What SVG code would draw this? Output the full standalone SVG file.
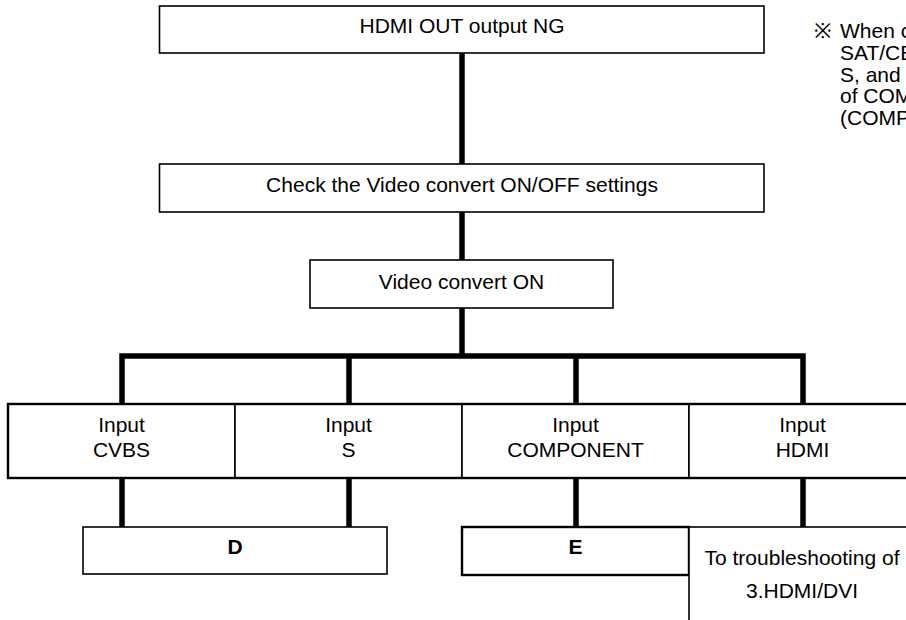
<svg xmlns="http://www.w3.org/2000/svg" width="906" height="620" viewBox="0 0 906 620">
<style>
.box{fill:#fff;stroke:#000;stroke-width:1.6}
.thick{fill:#fff;stroke:#000;stroke-width:2.4}
.frame{fill:none;stroke:#000;stroke-width:2.4}
.t{font-family:"Liberation Sans",Arial,sans-serif;font-size:21px;fill:#000;text-anchor:middle}
.b{font-weight:bold}
.note{font-family:"Liberation Sans",Arial,sans-serif;font-size:21px;fill:#000}
.c{stroke:#000;stroke-width:5.5;fill:none;stroke-linecap:butt}
</style>
<rect width="906" height="620" fill="#fff"/>
<g id="connectors">
<line class="c" x1="462" y1="53" x2="462" y2="164"/>
<line class="c" x1="462" y1="212" x2="462" y2="260"/>
<line class="c" x1="462" y1="308" x2="462" y2="356"/>
<path class="c" d="M122 404 V356 H803 V404"/>
<line class="c" x1="349" y1="356" x2="349" y2="404"/>
<line class="c" x1="576" y1="356" x2="576" y2="404"/>
<line class="c" x1="122" y1="478" x2="122" y2="527"/>
<line class="c" x1="349" y1="478" x2="349" y2="527"/>
<line class="c" x1="576" y1="478" x2="576" y2="527"/>
<line class="c" x1="803" y1="478" x2="803" y2="527"/>
</g>
<g id="n-hdmi-out-ng">
<rect class="box" x="159.5" y="6" width="604.5" height="47"/>
<text class="t" x="462" y="33">HDMI OUT output NG</text>
</g>
<g id="n-check">
<rect class="box" x="159.5" y="164" width="604.5" height="48"/>
<text class="t" x="462" y="192">Check the Video convert ON/OFF settings</text>
</g>
<g id="n-convert-on">
<rect class="box" x="310" y="260" width="303" height="48"/>
<text class="t" x="461.5" y="289">Video convert ON</text>
</g>
<g id="n-cvbs">
<rect class="box" x="8" y="404" width="227" height="74"/>
<text class="t" x="121.5" y="432">Input</text>
<text class="t" x="121.5" y="457">CVBS</text>
</g>
<g id="n-s">
<rect class="box" x="235" y="404" width="227" height="74"/>
<text class="t" x="348.5" y="432">Input</text>
<text class="t" x="348.5" y="457">S</text>
</g>
<g id="n-component">
<rect class="box" x="462" y="404" width="227" height="74"/>
<text class="t" x="575.5" y="432">Input</text>
<text class="t" x="575.5" y="457">COMPONENT</text>
</g>
<g id="n-hdmi">
<rect class="box" x="689" y="404" width="227" height="74"/>
<text class="t" x="802.5" y="432">Input</text>
<text class="t" x="802.5" y="457">HDMI</text>
</g>
<g id="input-row-frame">
<rect class="frame" x="8" y="404" width="908" height="74"/>
</g>
<g id="n-d">
<rect class="box" x="83" y="527" width="304" height="47"/>
<text class="t b" x="235" y="554">D</text>
</g>
<g id="n-e">
<rect class="thick" x="462" y="527" width="227" height="48"/>
<text class="t b" x="575.5" y="554">E</text>
</g>
<g id="n-hdmi-dvi">
<rect class="box" x="689" y="527" width="230" height="110"/>
<text class="t" x="802" y="565">To troubleshooting of</text>
<text class="t" x="802" y="598">3.HDMI/DVI</text>
</g>
<g id="note">
<text class="note" y="38"><tspan x="814">※</tspan><tspan x="840">When c</tspan></text>
<text class="note" x="840" y="60">SAT/CB</text>
<text class="note" x="840" y="82">S, and</text>
<text class="note" x="840" y="103">of COM</text>
<text class="note" x="840" y="125">(COMP</text>
</g>
</svg>
